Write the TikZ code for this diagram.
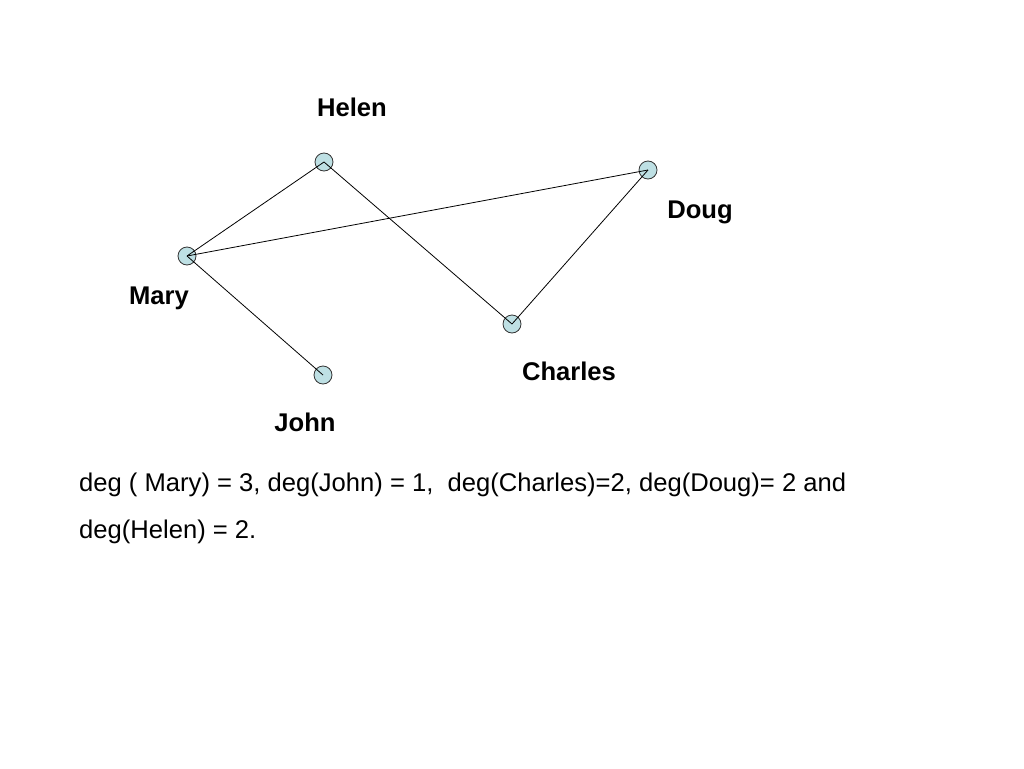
\documentclass[tikz,border=0pt]{standalone}
\usepackage{fontspec}
\setmainfont{Liberation Sans}
\definecolor{vfill}{RGB}{190,224,228}
\begin{document}
\begin{tikzpicture}[x=1pt,y=-1pt,
  vert/.style={circle,draw=black!80,line width=0.8pt,fill=vfill,minimum size=18pt,inner sep=0pt},
  edge/.style={draw=black,line width=0.8pt},
  lbl/.style={font=\fontsize{25.6}{30}\selectfont\bfseries,inner sep=0pt,anchor=base},
  body/.style={font=\fontsize{25.6}{30}\selectfont,inner sep=0pt,anchor=base west}]
\useasboundingbox (0,0) rectangle (1024,768);
\node[vert] (helen) at (324,162) {};
\node[vert] (doug) at (648,170) {};
\node[vert] (mary) at (187,256) {};
\node[vert] (charles) at (512,324) {};
\node[vert] (john) at (323,375) {};
\draw[edge] (mary.center) -- (helen.center);
\draw[edge] (mary.center) -- (doug.center);
\draw[edge] (mary.center) -- (john.center);
\draw[edge] (helen.center) -- (charles.center);
\draw[edge] (charles.center) -- (doug.center);
\node[lbl] (lhelen) at (352,116) {Helen};
\node[lbl] (ldoug) at (700,218) {Doug};
\node[lbl] (lmary) at (159,304) {Mary};
\node[lbl] (lcharles) at (569,380) {Charles};
\node[lbl] (ljohn) at (305,431) {John};
\node[body] (t1) at (79,491) {deg ( Mary) = 3, deg(John) = 1,\ \ deg(Charles)=2, deg(Doug)= 2 and};
\node[body] (t2) at (79,538) {deg(Helen) = 2.};
\end{tikzpicture}
\end{document}
